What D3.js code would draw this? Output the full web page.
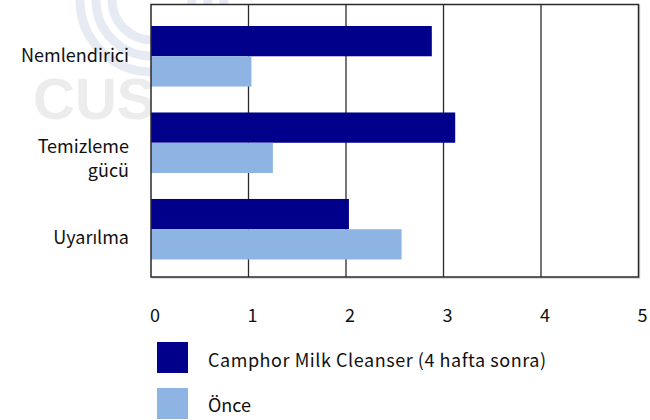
<!DOCTYPE html>
<html><head><meta charset="utf-8">
<script src="https://cdn.jsdelivr.net/npm/d3@7"></script>
<style>
html,body{margin:0;padding:0;background:#fff;}
svg{display:block;font-family:"Noto Sans CJK JP","Noto Sans",sans-serif;}
</style></head>
<body><svg id="c" width="650" height="420"></svg>
<script>
const categories = ["Nemlendirici", "Temizleme\ngücü", "Uyarılma"];
const seriesNames = ["Camphor Milk Cleanser (4 hafta sonra)", "Önce"];
const afterValues = [2.88, 3.12, 2.03];
const beforeValues = [1.03, 1.25, 2.57];
const tickValues = [0, 1, 2, 3, 4, 5];
const colors = ["#00008B", "#8DB4E2"];

const svg = d3.select("#c");
const L = 151, R = 638.5, T = 4.5, B = 277;

// watermark
const wm = svg.append("g");
[72, 56, 40].forEach(r => wm.append("circle").attr("cx", 152).attr("cy", 0).attr("r", r)
  .attr("fill", "none").attr("stroke", "#e6eaf2").attr("stroke-width", 9));
wm.append("text").attr("x", 33).attr("y", 119).attr("font-size", 58).attr("font-weight", "bold")
  .attr("font-family", "Liberation Sans, Arial, sans-serif").attr("fill", "#ececec").text("CUS");

const x = d3.scaleLinear().domain([0, 5]).range([L, R]);
const yLab = d3.scaleBand().domain(categories).range([T, B]);
const y = d3.scaleBand().domain(categories).range([26, 259.5]).paddingInner(0.3).paddingOuter(0);
const sub = d3.scaleBand().domain([0, 1]).range([0, y.bandwidth()]);

svg.append("rect").attr("x", L + 1).attr("y", T + 1).attr("width", R - L).attr("height", B - T)
  .attr("fill", "none").attr("stroke", "#d0d0d0").attr("stroke-width", 1.5);
svg.append("rect").attr("x", L).attr("y", T).attr("width", R - L).attr("height", B - T).attr("fill", "#fff");

// gridlines
svg.append("g").selectAll("line").data(tickValues.slice(1, -1)).join("line")
  .attr("x1", d => x(d)).attr("x2", d => x(d)).attr("y1", T).attr("y2", B)
  .attr("stroke", "#2a2a2a").attr("stroke-width", 1.3);

const series = [afterValues, beforeValues];
series.forEach((vals, si) => {
  svg.append("g").selectAll("rect").data(categories).join("rect")
    .attr("x", x(0)).attr("y", (c) => y(c) + sub(si))
    .attr("width", (c, i) => x(vals[i]) - x(0)).attr("height", sub.bandwidth())
    .attr("fill", colors[si]);
});

svg.append("rect").attr("x", L).attr("y", T).attr("width", R - L).attr("height", B - T)
  .attr("fill", "none").attr("stroke", "#2a2a2a").attr("stroke-width", 1.5);

// category labels
const lab = svg.append("g").attr("font-size", 18).attr("fill", "#111").attr("text-anchor", "end");
categories.forEach(c => {
  const lines = c.split("\n");
  lines.forEach((ln, i) => lab.append("text").attr("x", 129)
    .attr("y", yLab(c) + yLab.bandwidth() / 2 + 12 + i * 24).text(ln));
});

// x tick labels
svg.append("g").attr("font-size", 18).attr("fill", "#111").attr("text-anchor", "middle")
  .selectAll("text").data(tickValues).join("text")
  .attr("x", d => x(d) + 4).attr("y", 321.5).text(d => d);

// legend
const lg = svg.append("g");
seriesNames.forEach((n, i) => {
  lg.append("rect").attr("x", 157).attr("y", 342 + i * 46).attr("width", 31).attr("height", 31).attr("fill", colors[i]);
  const t = lg.append("text").attr("x", 208).attr("y", 366.5 + i * 45).attr("font-size", 18).attr("fill", "#111").text(n);
  if (i === 0) t.attr("textLength", 338).attr("lengthAdjust", "spacing");
});
</script></body></html>
